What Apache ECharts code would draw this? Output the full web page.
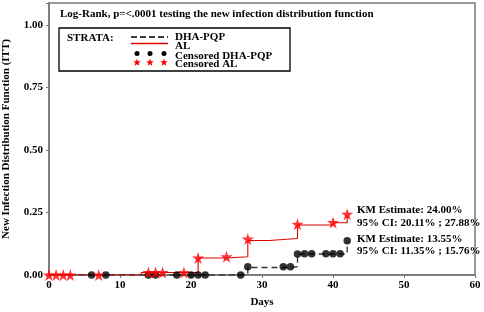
<!DOCTYPE html>
<html>
<head>
<meta charset="utf-8">
<script src="https://cdn.jsdelivr.net/npm/echarts@6/dist/echarts.min.js"></script>
<style>
  html, body { margin: 0; padding: 0; background: #fff; }
  #chart { width: 484px; height: 312px; }
</style>
</head>
<body>
<div id="chart"></div>
<script>
// step curves [day, cumulative proportion]
var alCurve = [[0, 0], [13, 0.01], [21, 0.068], [25, 0.073], [28, 0.138], [31, 0.142], [33, 0.146], [35, 0.2], [40, 0.209], [42, 0.24]];
var dhaCurve = [[0, 0], [28, 0.03], [33, 0.033], [35, 0.084], [42, 0.1355]];
// censored observations
var alCensored = [[0, 0], [1, 0], [2, 0], [3, 0], [7, 0], [14, 0.01], [15, 0.01], [16, 0.01], [19, 0.01], [21, 0.068], [25, 0.073], [28, 0.144], [35, 0.203], [40, 0.21], [42, 0.243]];
var dhaCensored = [[6, 0], [8, 0], [14, 0], [15, 0], [18, 0], [20, 0], [21, 0], [22, 0], [27, 0], [28, 0.033], [33, 0.033], [34, 0.033], [35, 0.084], [36, 0.085], [37, 0.085], [39, 0.085], [40, 0.085], [41, 0.085], [42, 0.137]];
var xTicks = [0, 10, 20, 30, 40, 50, 60];
var yTicks = [0, 0.25, 0.5, 0.75, 1.0];

var FONT = 'bold 11px "Liberation Serif", "DejaVu Serif", serif';
var starPath = 'path://M50,0 L61,35 L98,35 L68,57 L79,91 L50,70 L21,91 L32,57 L2,35 L39,35 Z';

function starPoints(cx, cy, r) {
  var pts = [];
  for (var i = 0; i < 10; i++) {
    var rr = i % 2 === 0 ? r : r * 0.42;
    var a = -Math.PI / 2 + i * Math.PI / 5;
    pts.push([cx + rr * Math.cos(a), cy + rr * Math.sin(a)]);
  }
  return pts;
}

function txt(x, y, s) {
  return { type: 'text', x: x, y: y, z: 100, style: { text: s, font: FONT, fill: '#000', verticalAlign: 'middle' } };
}

var legendItems = [
  { type: 'rect', shape: { x: 59, y: 28, width: 231, height: 43 }, style: { fill: '#fff', stroke: '#000', lineWidth: 1.3 }, z: 99 },
  txt(67, 38, 'STRATA:'),
  { type: 'line', shape: { x1: 131, y1: 37, x2: 168, y2: 37 }, style: { stroke: '#000', lineWidth: 1.3, lineDash: [6, 3] }, z: 100 },
  txt(175, 37, 'DHA-PQP'),
  { type: 'line', shape: { x1: 131, y1: 43.5, x2: 168, y2: 43.5 }, style: { stroke: '#e00000', lineWidth: 1.5 }, z: 100 },
  txt(175, 46, 'AL'),
  txt(175, 56, 'Censored DHA-PQP'),
  txt(175, 64.5, 'Censored AL'),
  txt(60, 14, 'Log-Rank, p=<.0001 testing the new infection distribution function'),
  txt(357, 210, 'KM Estimate: 24.00%'),
  txt(357, 223, '95% CI: 20.11% ; 27.88%'),
  txt(357, 239, 'KM Estimate: 13.55%'),
  txt(357, 251, '95% CI: 11.35% ; 15.76%')
];
[137, 150, 164].forEach(function (cx) {
  legendItems.push({ type: 'circle', shape: { cx: cx, cy: 53.5, r: 2.5 }, style: { fill: '#000' }, z: 100 });
  legendItems.push({ type: 'polygon', shape: { points: starPoints(cx, 62.5, 4) }, style: { fill: '#ff0000' }, z: 100 });
});

var chart = echarts.init(document.getElementById('chart'));
chart.setOption({
  animation: false,
  grid: { left: 49, right: 9, top: 3, bottom: 37, outerBoundsMode: 'none', show: true, borderColor: '#777', borderWidth: 1.5, backgroundColor: 'transparent' },
  xAxis: {
    type: 'value', min: xTicks[0], max: xTicks[xTicks.length - 1], interval: 10,
    name: 'Days', nameLocation: 'middle', nameGap: 22,
    nameTextStyle: { fontFamily: 'Liberation Serif', fontWeight: 'bold', fontSize: 11, color: '#000' },
    axisLine: { lineStyle: { color: '#777', width: 1.5 } },
    axisTick: { show: true, length: 3, lineStyle: { color: '#777' } },
    axisLabel: { fontFamily: 'Liberation Serif', fontWeight: 'bold', fontSize: 11, color: '#000', margin: 5 },
    splitLine: { show: false }
  },
  yAxis: {
    type: 'value', min: yTicks[0], max: 1.088, interval: 0.25,
    name: 'New Infection Distribution Function (ITT)', nameLocation: 'middle', nameGap: 37,
    nameTextStyle: { fontFamily: 'Liberation Serif', fontWeight: 'bold', fontSize: 11, color: '#000' },
    axisLine: { lineStyle: { color: '#777', width: 1.5 } },
    axisTick: { show: true, length: 3, lineStyle: { color: '#777' } },
    axisLabel: {
      fontFamily: 'Liberation Serif', fontWeight: 'bold', fontSize: 11, color: '#000', margin: 6,
      formatter: function (v) { return v > 1.01 ? '' : v.toFixed(2); }
    },
    splitLine: { show: false }
  },
  series: [
    { name: 'DHA-PQP', type: 'line', step: 'end', data: dhaCurve, symbol: 'none', z: 2,
      lineStyle: { color: '#333', width: 1.3, type: [6, 4] } },
    { name: 'AL', type: 'line', step: 'end', data: alCurve, symbol: 'none', z: 3,
      lineStyle: { color: '#e00000', width: 1.1 } },
    { name: 'Censored DHA-PQP', type: 'scatter', data: dhaCensored, symbol: 'circle', symbolSize: 7.5, z: 4,
      itemStyle: { color: '#000' } },
    { name: 'Censored AL', type: 'scatter', data: alCensored, symbol: starPath, symbolSize: 12, z: 5,
      itemStyle: { color: '#ff0000' } }
  ],
  graphic: legendItems
});
</script>
</body>
</html>
